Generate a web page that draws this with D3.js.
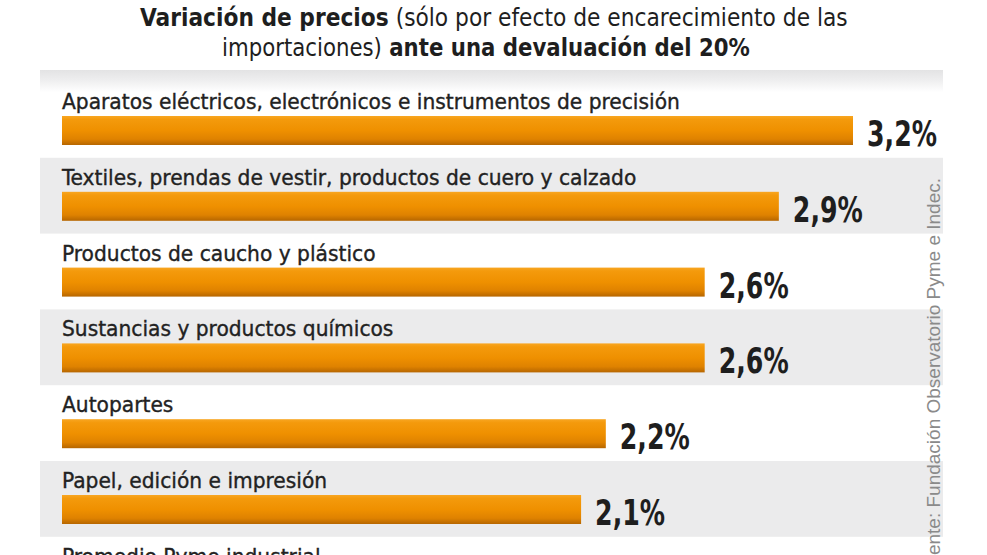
<!DOCTYPE html>
<html>
<head>
<meta charset="utf-8">
<script src="https://cdn.jsdelivr.net/npm/d3@7"></script>
<style>
  html, body { margin: 0; padding: 0; background: #ffffff; }
  svg { display: block; }
</style>
</head>
<body>
<svg id="chart" width="987" height="555"></svg>
<script>
// ---- data ----
const categories = [
  "Aparatos eléctricos, electrónicos e instrumentos de precisión",
  "Textiles, prendas de vestir, productos de cuero y calzado",
  "Productos de caucho y plástico",
  "Sustancias y productos químicos",
  "Autopartes",
  "Papel, edición e impresión",
  "Promedio Pyme industrial"
];
const values = [3.2, 2.9, 2.6, 2.6, 2.2, 2.1, null]; // last row cut off in the picture
const valueLabels = ["3,2%", "2,9%", "2,6%", "2,6%", "2,2%", "2,1%", ""];
const titleLine1 = [
  {text: "Variación de precios", bold: true},
  {text: " (sólo por efecto de encarecimiento de las", bold: false}
];
const titleLine2 = [
  {text: "importaciones)", bold: false},
  {text: " ante una devaluación del 20%", bold: true}
];
const sourceText = "Fuente: Fundación Observatorio Pyme e Indec.";

// ---- layout ----
const W = 987, H = 555;
const FONT = "'Liberation Sans Narrow', 'DejaVu Sans Condensed', 'Arial Narrow', sans-serif";
const svg = d3.select("#chart");

const x = d3.scaleLinear().domain([0, 3.2]).range([62, 853]);
const rowPitch = 75.8, rowTop0 = 82;
const y = d3.scaleBand()
  .domain(d3.range(categories.length))
  .range([rowTop0, rowTop0 + rowPitch * categories.length])
  .paddingInner(0).paddingOuter(0);

const defs = svg.append("defs");
const g1 = defs.append("linearGradient").attr("id", "barGrad")
  .attr("x1", 0).attr("y1", 0).attr("x2", 0).attr("y2", 1);
[[0, "#f8a622"], [0.12, "#f49a0c"], [0.5, "#ef9000"], [0.8, "#df8200"], [1, "#b66600"]]
  .forEach(([o, c]) => g1.append("stop").attr("offset", o).attr("stop-color", c));
const g2 = defs.append("linearGradient").attr("id", "headGrad")
  .attr("x1", 0).attr("y1", 0).attr("x2", 0).attr("y2", 1);
[[0, "#e3e3e4"], [0.5, "#efeff0"], [1, "#ffffff"]]
  .forEach(([o, c]) => g2.append("stop").attr("offset", o).attr("stop-color", c));

// header band
svg.append("rect").attr("x", 40).attr("y", 70).attr("width", 903).attr("height", 22)
  .attr("fill", "url(#headGrad)");

// alternating gray bands
svg.append("g").selectAll("rect")
  .data(d3.range(categories.length).filter(i => i % 2 === 1))
  .join("rect")
  .attr("x", 40).attr("width", 903)
  .attr("y", i => y(i)).attr("height", y.bandwidth())
  .attr("fill", "#ebebec");

// category labels
const labels = svg.append("g").selectAll("text")
  .data(categories)
  .join("text")
  .attr("font-family", FONT)
  .attr("font-size", 22)
  .attr("fill", "#222222")
  .attr("stroke", "#222222")
  .attr("stroke-width", 0.35)
  .text(d => d);
const labW = labels.nodes()[0].getComputedTextLength();
const labSx = 618 / labW;
labels.attr("transform", (d, i) => `translate(62,${y(i) + 27}) scale(${labSx},1)`);

// bars
const barData = values.map((v, i) => ({v, i})).filter(d => d.v != null);
svg.append("g").selectAll("rect")
  .data(barData)
  .join("rect")
  .attr("x", x(0))
  .attr("y", d => y(d.i) + 34)
  .attr("width", d => x(d.v) - x(0))
  .attr("height", 29)
  .attr("fill", "url(#barGrad)");

// value labels
const vals = svg.append("g").selectAll("text")
  .data(barData)
  .join("text")
  .attr("font-family", FONT)
  .attr("font-weight", "bold")
  .attr("font-size", 36)
  .attr("fill", "#1e1e1e")
  .text(d => valueLabels[d.i]);
const valW = vals.nodes()[0].getComputedTextLength();
const valSx = 70 / valW;
vals.attr("transform", d => `translate(${x(d.v) + 14},${y(d.i) + 34 + 30}) scale(${valSx},1)`);

// title
function titleLine(parts, cx, baseline, targetW) {
  const t = svg.append("text")
    .attr("font-family", FONT)
    .attr("font-size", 25)
    .attr("fill", "#1e1e1e");
  parts.forEach(p => t.append("tspan").attr("font-weight", p.bold ? "bold" : "normal").text(p.text));
  const w = t.node().getComputedTextLength();
  const sx = targetW / w;
  t.attr("transform", `translate(${cx - targetW / 2},${baseline}) scale(${sx},1)`);
}
titleLine(titleLine1, 494, 26, 708);
titleLine(titleLine2, 486, 56, 528);

// source (vertical, runs off the bottom edge as in the original)
svg.append("text")
  .attr("transform", "translate(940,178) rotate(-90)")
  .attr("text-anchor", "end")
  .attr("font-family", "'Liberation Sans', Arial, sans-serif")
  .attr("font-size", 19)
  .attr("fill", "#8a8a8a")
  .text(sourceText);
</script>
</body>
</html>
